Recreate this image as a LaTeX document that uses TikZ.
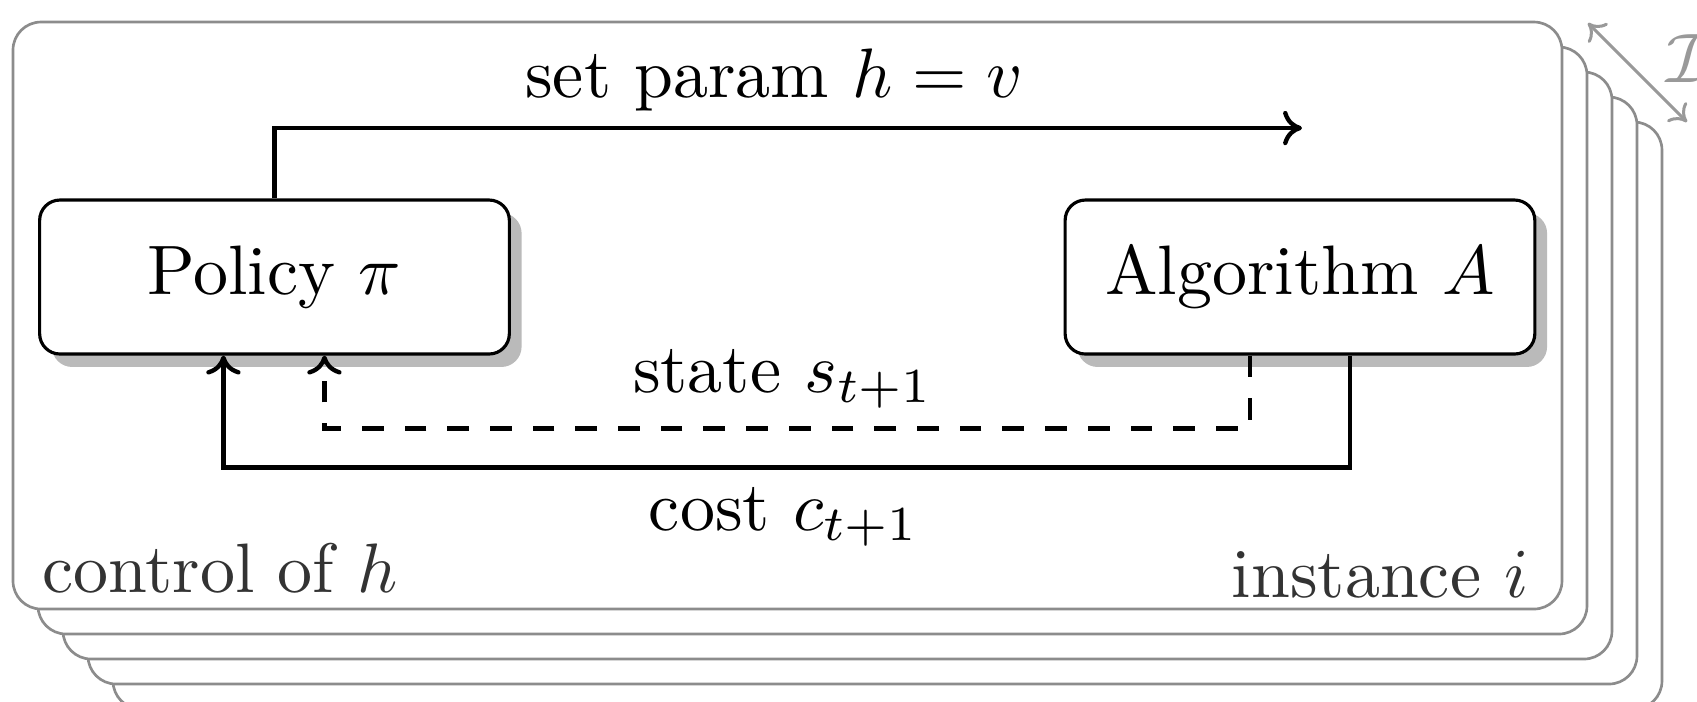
\documentclass[tikz,border=0pt]{standalone}
\usetikzlibrary{arrows.meta,shadows}
\begin{document}
\begin{tikzpicture}[x=0.142857pt,y=-0.142857pt,
  font=\normalsize,
  frame/.style={draw=black!45, line width=0.38pt, fill=white, rounded corners=4pt},
  box/.style={draw=black, line width=0.45pt, fill=white, rounded corners=2.9pt,
    minimum width=67.1pt, minimum height=22pt, inner sep=0pt,
    drop shadow={shadow xshift=1.75pt, shadow yshift=-1.85pt, fill=black!27, opacity=1}},
  arr/.style={line width=0.62pt, -{Computer Modern Rightarrow[length=2.7pt,width=4.9pt]}},
  dasharr/.style={arr, dash pattern=on 3.1pt off 3pt},
  lbl/.style={inner sep=0pt, text=black!80},
  txt/.style={inner sep=0pt, anchor=base},
  garr/.style={line width=0.43pt, draw=black!40,
    {Computer Modern Rightarrow[length=2.2pt,width=3.9pt]}-{Computer Modern Rightarrow[length=2.2pt,width=3.9pt]}},
]
\useasboundingbox (0,0) rectangle (1697,701);
\fill[white] (0,0) rectangle (1697,701);
\clip (0,0) rectangle (1697,701);
\foreach \k in {4,3,2,1,0} {
  \draw[frame] ({13+25*\k},{22+25*\k}) rectangle ({1562+25*\k},{609+25*\k});
}
\node[box] (pol) at (274.5,277) {Policy $\pi$};
\node[box] (alg) at (1300,277) {Algorithm $A$};

\coordinate (sp) at (1302,128);
\draw[arr] (pol.north) |- (sp);
\node[txt] (t1) at (774,97) {set param $h = v$};

\draw[arr] ([xshift=7.14pt]alg.south) -- ++(0,112) -| ([xshift=-7.29pt]pol.south);
\draw[dasharr] ([xshift=-7.14pt]alg.south) -- ++(0,73) -| ([xshift=7.14pt]pol.south);

\node[txt] (st) at (783,392) {state $s_{t+1}$};
\node[txt] (co) at (784,530) {cost $c_{t+1}$};
\node[lbl, anchor=base west] (ctl) at (41,592) {control of $h$};
\node[lbl, anchor=base east] (ins) at (1530,597) {instance $i$};

\coordinate (ia) at (1588,23);
\coordinate (ib) at (1687,122);
\draw[garr] (ia) -- (ib);
\node[anchor=base west, inner sep=0pt, text=black!40] (I) at (1665,82) {$\mathcal{I}$};
\end{tikzpicture}
\end{document}
